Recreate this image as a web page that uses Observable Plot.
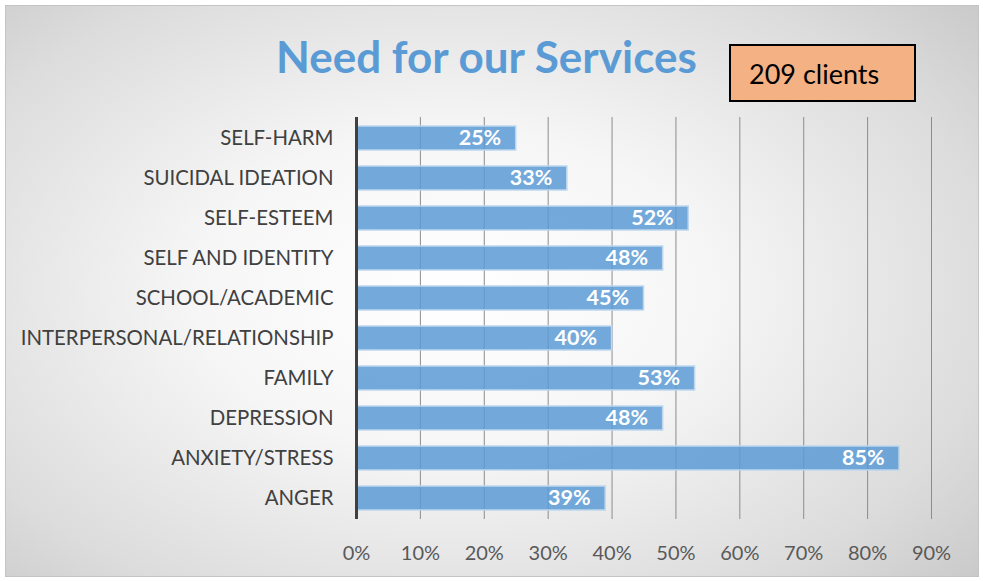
<!DOCTYPE html>
<html>
<head>
<meta charset="utf-8">
<script src="https://cdn.jsdelivr.net/npm/d3@7"></script>
<script src="https://cdn.jsdelivr.net/npm/@observablehq/plot@0.6"></script>
<style>
  html, body { margin: 0; padding: 0; background: #fff; }
  #wrap {
    position: relative; width: 983px; height: 581px; overflow: hidden;
  }
  #panel {
    position: absolute; left: 5px; top: 5px; width: 974px; height: 572px;
    box-sizing: border-box; border: 1.5px solid #c4c4c4;
    background: radial-gradient(ellipse 75% 80% at 46% 50%, #ffffff 0%, #f6f6f6 35%, #dcdcdc 75%, #c6c6c6 100%);
  }
  #title {
    position: absolute; left: 276px; top: 28px; width: 440px;
    font-family: Lato, "Open Sans", sans-serif; font-weight: bold; font-size: 44px;
    color: #5b9bd5; white-space: nowrap; line-height: 56px;
  }
  #box {
    position: absolute; left: 729px; top: 44px; width: 187px; height: 58px;
    box-sizing: border-box; border: 2px solid #000; background: #f4b183;
    font-family: Lato, "Open Sans", sans-serif; font-size: 27px; color: #000;
    padding-left: 18px; line-height: 56px; white-space: nowrap;
  }
  #chart { position: absolute; left: 0; top: 0; }
</style>
</head>
<body>
<div id="wrap">
  <div id="panel"></div>
  <div id="chart"></div>
  <div id="title">Need for our Services</div>
  <div id="box">209 clients</div>
</div>
<script>
const categories = [
  "SELF-HARM",
  "SUICIDAL IDEATION",
  "SELF-ESTEEM",
  "SELF AND IDENTITY",
  "SCHOOL/ACADEMIC",
  "INTERPERSONAL/RELATIONSHIP",
  "FAMILY",
  "DEPRESSION",
  "ANXIETY/STRESS",
  "ANGER"
];
const values = [0.25, 0.33, 0.52, 0.48, 0.45, 0.40, 0.53, 0.48, 0.85, 0.39];
const tickValues = [0, 0.1, 0.2, 0.3, 0.4, 0.5, 0.6, 0.7, 0.8, 0.9];

const data = categories.map((c, i) => ({category: c, value: values[i]}));
const font = "Lato, 'Open Sans', sans-serif";

const chart = Plot.plot({
  width: 983,
  height: 581,
  marginTop: 117,
  marginBottom: 62,
  marginLeft: 356,
  marginRight: 52,
  style: {background: "transparent", fontFamily: font, overflow: "visible"},
  x: {domain: [0, 0.9], axis: null},
  y: {domain: categories, axis: null, paddingInner: 0.4, paddingOuter: 0.2},
  marks: [
    Plot.ruleX(tickValues.filter(d => d > 0), {stroke: "#8c8c8c", strokeWidth: 1}),
    Plot.barX(data, {
      x: "value", y: "category",
      fill: "#5b9bd5", fillOpacity: 0.85,
      stroke: "#bdd7ee", strokeWidth: 1.5
    }),
    Plot.text(data, {
      x: "value", y: "category",
      text: d => Math.round(d.value * 100) + "%",
      textAnchor: "end", dx: -15,
      fill: "white", fontWeight: "bold", fontSize: 21.5, fontFamily: font
    }),
    Plot.ruleX([0], {stroke: "#404040", strokeWidth: 3}),
    Plot.axisY({
      tickSize: 0, tickPadding: 23, fontSize: 20.4, fill: "#404040",
      label: null, fontFamily: font
    }),
    Plot.axisX(tickValues, {
      tickSize: 0, tickPadding: 26, fontSize: 20, fill: "#595959",
      tickFormat: d => Math.round(d * 100) + "%", label: null, fontFamily: font
    })
  ]
});
document.getElementById("chart").appendChild(chart);
</script>
</body>
</html>
